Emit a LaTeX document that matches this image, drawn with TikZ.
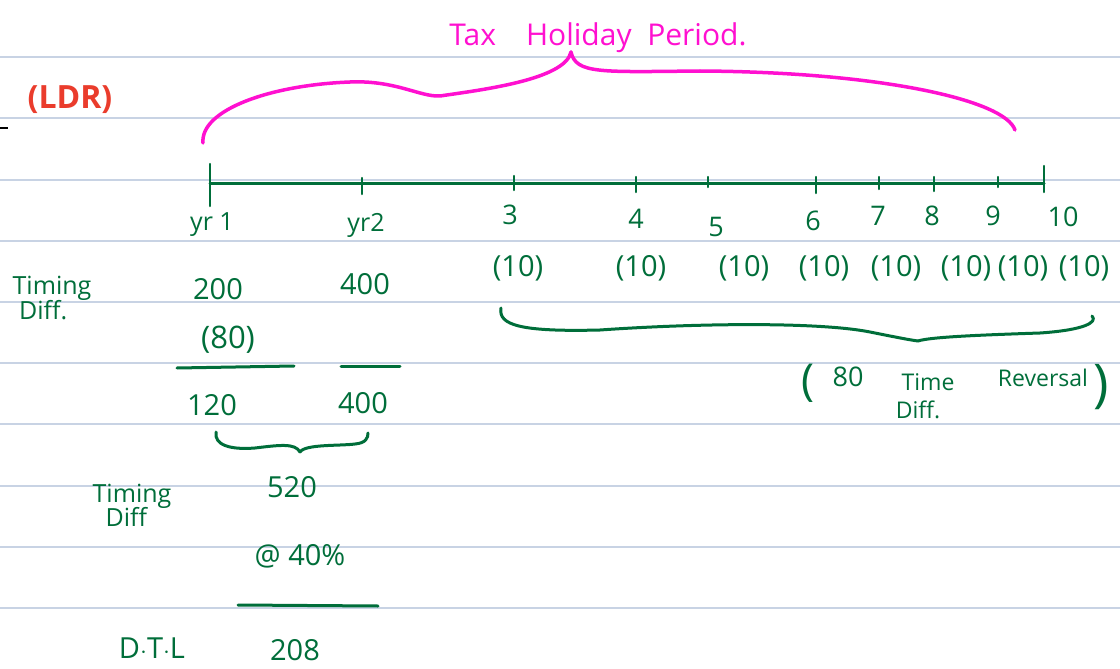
\documentclass[tikz,border=0pt]{standalone}
\usepackage{fontspec}
\setmainfont{Open Sans}
\definecolor{ink}{HTML}{006E3A}
\definecolor{pinkink}{HTML}{FF10D0}
\definecolor{redink}{HTML}{EA3C2C}
\definecolor{rule}{HTML}{C8D3E4}
\tikzset{
  rulel/.style={draw=rule,line width=1.2pt},
  gpen/.style={draw=ink,line width=3pt,line cap=round,line join=round},
  ppen/.style={draw=pinkink,line width=3.5pt,line cap=round,line join=round},
  gtxt/.style={text=ink,inner sep=0pt,font=\fontsize{29}{31}\selectfont},
  ntxt/.style={text=ink,inner sep=0pt,font=\fontsize{27}{29}\selectfont},
  stxt/.style={text=ink,inner sep=0pt,font=\fontsize{25}{25}\selectfont},
  rtxt/.style={text=ink,inner sep=0pt,font=\fontsize{23}{23}\selectfont},
  ptxt/.style={text=pinkink,inner sep=0pt,font=\fontsize{30}{32}\selectfont},
  tickm/.style={gpen,line width=2.5pt},
}
\begin{document}
\begin{tikzpicture}[x=1pt,y=-1pt]
\useasboundingbox (0,0) rectangle (1120,669);
\fill[white] (0,0) rectangle (1120,669);
% ruled lines
\foreach \yy in {57,118,180,241,302,363,424,486,547,608}{
  \draw[rulel] (0,\yy) -- (1120,\yy);
}
\draw[black,line width=2pt] (0,128) -- (8,128);
% title
\node[text=redink,inner sep=0pt,font=\fontsize{32}{34}\selectfont\bfseries] (cdr) at (70,100) {(LDR)};
\node[ptxt] (tax) at (598,38) {Tax\quad Holiday\ \ Period.};
% pink brace
\coordinate (pl) at (203,143);
\coordinate (pt) at (571,52);
\coordinate (pr) at (1015,130);
\draw[ppen] (pl) .. controls (200,110) and (270,85) .. (350,82)
  .. controls (395,80) and (420,97) .. (440,96)
  .. controls (480,90) and (565,80) .. (pt);
\draw[ppen] (pt) .. controls (576,74) and (600,72) .. (700,71)
  .. controls (880,72) and (1005,100) .. (pr);
% timeline
\coordinate (t0) at (210,183);
\coordinate (t10) at (1044,183);
\draw[gpen] (t0) -- (t10);
\draw[tickm] (210,164) -- (210,206);
\draw[tickm] (1044,166) -- (1044,192);
\foreach \xx/\a/\b in {362/178/194,514/176/190,636/177/192,708/177/187,816/177/193,879/177/189,934/177/191,998/177/187}{
  \draw[tickm] (\xx,\a) -- (\xx,\b);
}
% year labels
\node[stxt] (y1) at (212,225) {yr 1};
\node[stxt] (y2) at (366,225) {yr2};
\node[ntxt] (n3) at (510,215) {3};
\node[ntxt] (n4) at (636,219) {4};
\node[ntxt] (n5) at (716,227) {5};
\node[ntxt] (n6) at (813,221) {6};
\node[ntxt] (n7) at (878,216) {7};
\node[ntxt] (n8) at (932,216) {8};
\node[ntxt] (n9) at (993,216) {9};
\node[ntxt] (n10) at (1063,217) {10};
% (10) row
\foreach \xx/\nm in {518/a,641/b,744/c,824/d,896/e,966/f,1023/g,1084/h}{
  \node[gtxt] (ten\nm) at (\xx,268) {(10)};
}
% left column
\node[stxt,align=left] (td1) at (52,298) {Timing\\[-2pt]\ Diff.};
\node[gtxt] (v200) at (218,289) {200};
\node[gtxt] (v400) at (365,284) {400};
\node[gtxt,font=\fontsize{31}{33}\selectfont] (v80) at (228,340) {(80)};
\coordinate (u1a) at (177,368); \coordinate (u1b) at (294,366);
\draw[gpen] (u1a) -- (u1b);
\coordinate (u2a) at (341,366); \coordinate (u2b) at (400,366);
\draw[gpen] (u2a) -- (u2b);
\node[gtxt] (v120) at (212,405) {120};
\node[gtxt] (v400b) at (363,403) {400};
% brace under 120 / 400
\coordinate (bl) at (216,432);
\coordinate (bt) at (300,452);
\coordinate (br) at (368,433);
\draw[gpen] (bl) .. controls (214,445) and (230,450) .. (255,448)
  .. controls (280,445) and (295,443) .. (bt);
\draw[gpen] (bt) .. controls (305,444) and (340,446) .. (355,444)
  .. controls (366,443) and (368,438) .. (br);
\node[stxt,align=left] (td2) at (132,505) {Timing\\[-2pt]\ \ Diff};
\node[gtxt] (v520) at (292,487) {520};
\node[gtxt] (pct) at (300,556) {@ 40\%};
\coordinate (u3a) at (238,605); \coordinate (u3b) at (378,606);
\draw[gpen] (u3a) -- (u3b);
\node[gtxt] (dtl) at (152,648) {D$\cdot$T$\cdot$L};
\node[gtxt] (v208) at (295,650) {208};
% big brace under (10)s
\coordinate (gl) at (501,308);
\coordinate (gt) at (918,341);
\coordinate (gr) at (1092,316);
\draw[gpen] (gl) .. controls (498,325) and (520,332) .. (600,330)
  .. controls (700,323) and (820,322) .. (870,332)
  .. controls (895,337) and (910,340) .. (gt);
\draw[gpen] (gt) .. controls (930,337) and (980,335) .. (1040,333)
  .. controls (1085,330) and (1098,322) .. (gr);
% reversal note
\node[rtxt] (op) at (808,383) {\fontsize{44}{46}\selectfont(};
\node[rtxt,font=\fontsize{27}{27}\selectfont] (r80) at (848,377) {80};
\node[rtxt] (rtime) at (928,382) {Time};
\node[rtxt] (rrev) at (1043,378) {Reversal};
\node[rtxt] (cp) at (1101,387) {\fontsize{52}{54}\selectfont)};
\node[rtxt] (rdiff) at (918,410) {Diff.};
\end{tikzpicture}
\end{document}
